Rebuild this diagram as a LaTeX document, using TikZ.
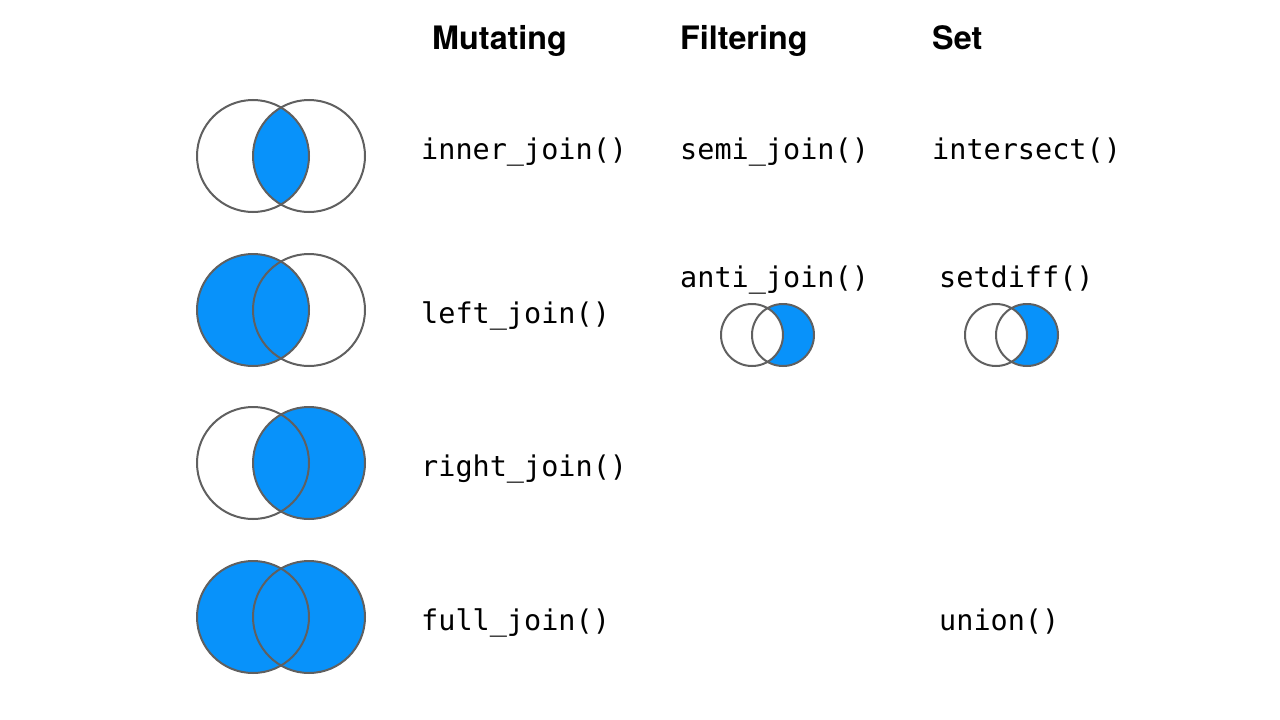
\documentclass[tikz,border=0pt]{standalone}
\usepackage{fontspec}
\setmonofont{DejaVu Sans Mono}
\newfontfamily\headfont{TeX Gyre Heros}
\usepackage{tikz}
\definecolor{joinblue}{RGB}{8,146,250}
\definecolor{ringgray}{RGB}{96,96,96}
\tikzset{fn/.style={font=\ttfamily\fontsize{28.5}{30}\selectfont, anchor=base west, inner sep=0pt},
	head/.style={font=\headfont\bfseries\fontsize{32.3}{34}\selectfont, anchor=base west, inner sep=0pt},
	ring/.style={draw=ringgray, line width=2pt},
	part/.style={fill=joinblue}}
% outlines of one pair of sets
\newcommand{\vennrings}[4]{\draw[ring] (#1,#3) circle (#4); \draw[ring] (#2,#3) circle (#4);}

\begin{document}
\begin{tikzpicture}[x=1pt, y=-1pt]
	\fill[white] (0,0) rectangle (1280,720);
	\useasboundingbox (0,0) rectangle (1280,720);
	% headers
	\node[head] (mut) at (432,49) {Mutating};
	\node[head] (filt) at (680,49) {Filtering};
	\node[head] (set) at (932,49) {Set};
	% inner join
	\begin{scope}
		\clip (253,156) circle (56);
		\fill[part] (309,156) circle (56);
	\end{scope}
	\vennrings{253}{309}{156}{56}
	% left join
	\fill[part] (253,310) circle (56);
	\vennrings{253}{309}{310}{56}
	% right join
	\fill[part] (309,463) circle (56);
	\vennrings{253}{309}{463}{56}
	% full join
	\fill[part] (253,617) circle (56) (309,617) circle (56);
	\vennrings{253}{309}{617}{56}
	% anti join and setdiff
	\foreach \l/\r in {752/783, 996/1027}{
		\fill[part] (\r,335) circle (31);
		\fill[white] (\l,335) circle (31);
		\vennrings{\l}{\r}{335}{31}
	}
	% function names
	\node[fn] (inner) at (421,159) {inner\_join()};
	\node[fn] (left) at (421,323) {left\_join()};
	\node[fn] (right) at (421,476) {right\_join()};
	\node[fn] (full) at (421,630) {full\_join()};
	\node[fn] (semi) at (680,159) {semi\_join()};
	\node[fn] (anti) at (680,287) {anti\_join()};
	\node[fn] (inters) at (932,159) {intersect()};
	\node[fn] (sdiff) at (939,287) {setdiff()};
	\node[fn] (union) at (939,630) {union()};
\end{tikzpicture}
\end{document}
